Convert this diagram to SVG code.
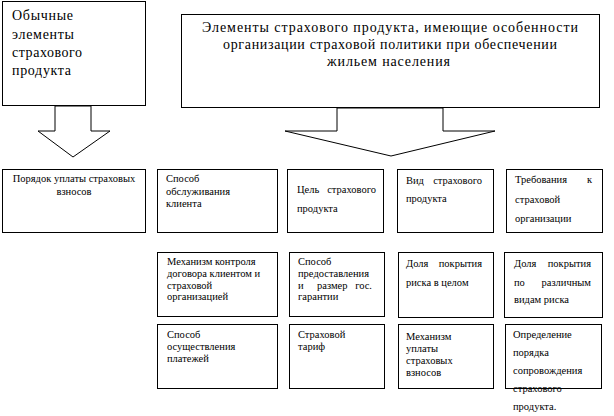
<svg xmlns="http://www.w3.org/2000/svg" width="614" height="416" viewBox="0 0 614 416">
<style>
.box{fill:#fff;stroke:#000;stroke-width:1}
.arr{fill:#fff;stroke:#000;stroke-width:1}
text{font-family:'Liberation Serif','Times New Roman',serif;fill:#000}
.big{font-size:14px}
.sm{font-size:10.5px}
.e{text-anchor:end}
</style>
<rect width="614" height="416" fill="#fff"/>
<g id="connectors">
<polygon class="arr" points="55,106 55,131 38,131 73,157 110,131 91,131 91,106"/>
<polygon class="arr" points="337,108 337,131 285,131 391,156 495,131 443,131 443,108"/>
</g>
<g id="n-ordinary">
<rect class="box" x="2.5" y="1.5" width="143" height="104"/>
<text class="big" x="12" y="20" textLength="61">Обычные</text>
<text class="big" x="12" y="39" textLength="62">элементы</text>
<text class="big" x="12" y="57" textLength="70">страхового</text>
<text class="big" x="12" y="75" textLength="59">продукта</text>
</g>
<g id="n-special">
<rect class="box" x="181.5" y="14.5" width="418" height="93"/>
<text class="big" x="390" y="32" text-anchor="middle" textLength="376">Элементы страхового продукта, имеющие особенности</text>
<text class="big" x="390" y="49" text-anchor="middle" textLength="334">организации страховой политики при обеспечении</text>
<text class="big" x="388.5" y="66" text-anchor="middle" textLength="123">жильем населения</text>
</g>
<g id="n-a1">
<rect class="box" x="2.5" y="169.5" width="143" height="63"/>
<text class="sm" x="74" y="182" text-anchor="middle">Порядок уплаты страховых</text>
<text class="sm" x="74" y="195" text-anchor="middle">взносов</text>
</g>
<g id="n-b1">
<rect class="box" x="157.5" y="169.5" width="120" height="63"/>
<text class="sm" x="166" y="182">Способ</text>
<text class="sm" x="166" y="195">обслуживания</text>
<text class="sm" x="166" y="207">клиента</text>
</g>
<g id="n-c1">
<rect class="box" x="287.5" y="169.5" width="96" height="63"/>
<text class="sm" x="297" y="193">Цель</text>
<text class="sm e" x="376" y="193">страхового</text>
<text class="sm" x="297" y="212">продукта</text>
</g>
<g id="n-d1">
<rect class="box" x="397.5" y="169.5" width="96" height="63"/>
<text class="sm" x="406" y="184">Вид</text>
<text class="sm e" x="482" y="184">страхового</text>
<text class="sm" x="406" y="202">продукта</text>
</g>
<g id="n-e1">
<rect class="box" x="506.5" y="169.5" width="96" height="63"/>
<text class="sm" x="515" y="183">Требования</text>
<text class="sm e" x="592" y="183">к</text>
<text class="sm" x="515" y="203">страховой</text>
<text class="sm" x="515" y="222">организации</text>
</g>
<g id="n-b2">
<rect class="box" x="157.5" y="252.5" width="120" height="64"/>
<text class="sm" x="167" y="265">Механизм контроля</text>
<text class="sm" x="167" y="277">договора клиентом и</text>
<text class="sm" x="167" y="289">страховой</text>
<text class="sm" x="167" y="300">организацией</text>
</g>
<g id="n-c2">
<rect class="box" x="289.5" y="252.5" width="95" height="64"/>
<text class="sm" x="298" y="265">Способ</text>
<text class="sm" x="298" y="277">предоставления</text>
<text class="sm" x="298" y="289">и</text>
<text class="sm" x="317" y="289">размер</text>
<text class="sm e" x="372" y="289">гос.</text>
<text class="sm" x="298" y="300">гарантии</text>
</g>
<g id="n-d2">
<rect class="box" x="398.5" y="252.5" width="95" height="65"/>
<text class="sm" x="406" y="267">Доля</text>
<text class="sm e" x="482" y="267">покрытия</text>
<text class="sm" x="406" y="286">риска в целом</text>
</g>
<g id="n-e2">
<rect class="box" x="504.5" y="252.5" width="98" height="65"/>
<text class="sm" x="514" y="267">Доля</text>
<text class="sm e" x="591" y="267">покрытия</text>
<text class="sm" x="514" y="286">по</text>
<text class="sm e" x="591" y="286">различным</text>
<text class="sm" x="514" y="303">видам риска</text>
</g>
<g id="n-b3">
<rect class="box" x="157.5" y="324.5" width="120" height="64"/>
<text class="sm" x="167" y="338">Способ</text>
<text class="sm" x="167" y="350">осуществления</text>
<text class="sm" x="167" y="362">платежей</text>
</g>
<g id="n-c3">
<rect class="box" x="289.5" y="324.5" width="95" height="64"/>
<text class="sm" x="298" y="338">Страховой</text>
<text class="sm" x="298" y="350">тариф</text>
</g>
<g id="n-d3">
<rect class="box" x="398.5" y="324.5" width="95" height="64"/>
<text class="sm" x="406" y="340">Механизм</text>
<text class="sm" x="406" y="352">уплаты</text>
<text class="sm" x="406" y="364">страховых</text>
<text class="sm" x="406" y="376">взносов</text>
</g>
<g id="n-e3">
<rect class="box" x="505.5" y="324.5" width="96" height="64"/>
<text class="sm" x="513" y="338">Определение</text>
<text class="sm" x="513" y="356">порядка</text>
<text class="sm" x="513" y="374">сопровождения</text>
<text class="sm" x="513" y="392">страхового</text>
<text class="sm" x="513" y="410">продукта.</text>
</g>
</svg>
